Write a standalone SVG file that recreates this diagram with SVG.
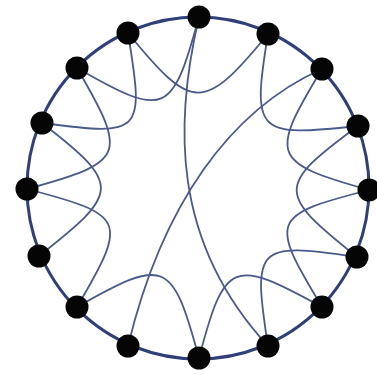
<svg xmlns="http://www.w3.org/2000/svg" width="377" height="375" viewBox="0 0 377 375">
<style>
.ring{fill:none;stroke:#2f3f7a;stroke-width:3}
.e{fill:none;stroke:#4a5a8c;stroke-width:1.8}
.n{fill:#050505}
</style>
<rect width="377" height="375" fill="#fff"/>
<g id="connectors">
<circle class="ring" cx="198" cy="188" r="171"/>
<path class="e" d="M268,34 C251.3,134.6 256.6,137 358,126"/>
<path class="e" d="M322,69 C269.2,156.2 270.8,162.4 369,190"/>
<path class="e" d="M358,126 C275.7,186.3 277.1,193.5 357,257"/>
<path class="e" d="M369,190 C270.2,215.2 269.2,219.8 322,307"/>
<path class="e" d="M357,257 C256.1,241.9 252.2,245.2 268,346"/>
<path class="e" d="M322,307 C232.6,257.8 224.9,259.4 199,358"/>
<path class="e" d="M199,358 C172.1,259.6 165.7,256.8 77,307"/>
<path class="e" d="M77,307 C128.8,219.1 125.6,214.9 27,189"/>
<path class="e" d="M39,256 C119.2,192.9 122.8,185.2 42,123"/>
<path class="e" d="M27,189 C125.4,162.1 128.3,156.1 77,68"/>
<path class="e" d="M42,123 C143.1,136.5 144.5,133.7 128,33"/>
<path class="e" d="M77,68 C165.5,118.7 172.1,115.4 199,17"/>
<path class="e" d="M128,33 C192.6,111.9 203.2,112.8 268,34"/>
<path class="e" d="M199,17 C175,120 170,240 268,346"/>
<path class="e" d="M322,69 C230,110 162,205 128,346"/>
</g>
<g id="n0"><circle class="n" cx="199" cy="17" r="11.5"/></g>
<g id="n1"><circle class="n" cx="268" cy="34" r="11.5"/></g>
<g id="n2"><circle class="n" cx="322" cy="69" r="11.5"/></g>
<g id="n3"><circle class="n" cx="358" cy="126" r="11.5"/></g>
<g id="n4"><circle class="n" cx="369" cy="190" r="11.5"/></g>
<g id="n5"><circle class="n" cx="357" cy="257" r="11.5"/></g>
<g id="n6"><circle class="n" cx="322" cy="307" r="11.5"/></g>
<g id="n7"><circle class="n" cx="268" cy="346" r="11.5"/></g>
<g id="n8"><circle class="n" cx="199" cy="358" r="11.5"/></g>
<g id="n9"><circle class="n" cx="128" cy="346" r="11.5"/></g>
<g id="n10"><circle class="n" cx="77" cy="307" r="11.5"/></g>
<g id="n11"><circle class="n" cx="39" cy="256" r="11.5"/></g>
<g id="n12"><circle class="n" cx="27" cy="189" r="11.5"/></g>
<g id="n13"><circle class="n" cx="42" cy="123" r="11.5"/></g>
<g id="n14"><circle class="n" cx="77" cy="68" r="11.5"/></g>
<g id="n15"><circle class="n" cx="128" cy="33" r="11.5"/></g>
</svg>
